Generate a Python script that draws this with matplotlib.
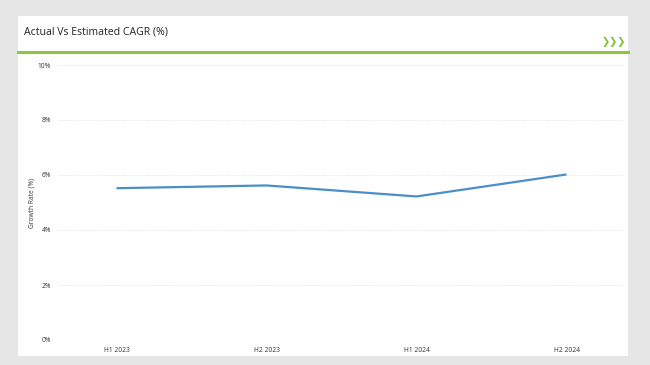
import matplotlib.pyplot as plt
from matplotlib.patches import Rectangle
from matplotlib.lines import Line2D

PERIODS = ["H1 2023", "H2 2023", "H1 2024", "H2 2024"]
GROWTH = [5.52, 5.62, 5.22, 6.02]
Y_TICKS = [0, 2, 4, 6, 8, 10]

W, H = 650, 365
LINE_COLOR = "#4a8fca"
GREEN = "#8dc63f"
FONT = ["Open Sans", "DejaVu Sans"]

fig = plt.figure(figsize=(W / 100, H / 100), dpi=100)
fig.patch.set_facecolor("#e6e6e6")


def px(x, y):
    return x / W, 1 - y / H


# white card behind everything
fig.patches.append(Rectangle((18 / W, 1 - 356 / H), 610 / W, 340 / H,
                             transform=fig.transFigure, facecolor="white",
                             edgecolor="none", zorder=-5))
# green rule under title
fig.lines.append(Line2D([18 / W, 628 / W], [1 - 52 / H] * 2, transform=fig.transFigure,
                        color=GREEN, linewidth=2.2, zorder=-4))
fig.text(*px(24, 32), "Actual Vs Estimated CAGR (%)", fontsize=7.6, family=FONT,
         color="#222222", va="center", ha="left")
fig.text(*px(626, 42), "\u276f\u276f\u276f", fontsize=7, family=["DejaVu Sans"],
         color="#7cc02a", fontweight="bold", va="center", ha="right")

ax = fig.add_axes([58 / W, 1 - 340 / H, (625 - 58) / W, 275 / H])
ax.set_facecolor("none")
x = list(range(len(PERIODS)))
ax.plot(x, GROWTH, color=LINE_COLOR, linewidth=1.6, solid_capstyle="butt")
ax.set_xlim(-0.39, 3.39)
ax.set_ylim(0, 10)
ax.set_yticks(Y_TICKS)
ax.set_yticklabels([f"{v}%" for v in Y_TICKS])
ax.set_xticks(x)
ax.set_xticklabels(PERIODS)
ax.grid(axis="y", color="#dddddd", linestyle=(0, (1, 1.5)), linewidth=0.6)
ax.tick_params(length=0, labelsize=4.8, colors="#333333", pad=5)
for lbl in ax.get_xticklabels() + ax.get_yticklabels():
    lbl.set_family(FONT)
for s in ax.spines.values():
    s.set_visible(False)
ax.set_ylabel("Growth Rate (%)", fontsize=4.8, family=FONT, color="#333333", labelpad=2)

fig.savefig("out.png", dpi=100, facecolor=fig.get_facecolor())
